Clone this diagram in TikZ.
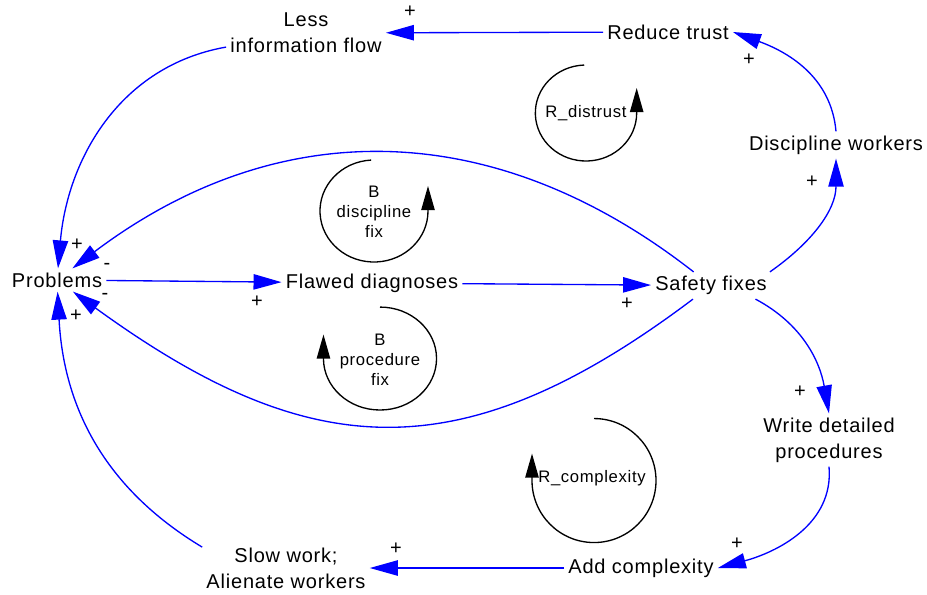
\documentclass[tikz,border=0pt]{standalone}
\usepackage{fontspec}
\setmainfont{Liberation Sans}[LetterSpace=4]
\usetikzlibrary{arrows.meta}
\definecolor{linkblue}{RGB}{0,0,255}

\begin{document}
\begin{tikzpicture}[%
  x=0.75pt, y=0.75pt,
  var/.style={inner sep=3pt, align=center, font=\fontsize{15}{19.5}\selectfont},
  looplabel/.style={inner sep=0pt, align=center, font=\fontsize{12.5}{15}\selectfont},
  sign/.style={inner sep=0pt, font=\fontsize{15}{17}\selectfont},
  causal/.style={draw=linkblue, line width=1pt, -{Triangle[length=21pt,width=11.5pt]}},
  loopline/.style={draw=black, line width=1pt, -{Triangle[length=18pt,width=10pt]}}]
  \useasboundingbox (0,0) rectangle (927,-594);

  % variables
  \node[var] (pr) at (57,-280) {Problems};
  \node[var] (fd) at (372,-283) {Flawed diagnoses};
  \node[var] (sf) at (711,-285.5) {Safety fixes};
  \node[var] (li) at (306,-33) {Less\\information flow};
  \node[var] (rt) at (668,-32) {Reduce trust};
  \node[var] (dw) at (836,-145) {Discipline workers};
  \node[var] (wd) at (829,-440) {Write detailed\\procedures};
  \node[var] (ac) at (641,-568) {Add complexity};
  \node[var] (sw) at (286,-568) {Slow work;\\Alienate workers};

  % links
  \draw[causal] (pr) -- (fd);
  \draw[causal] (fd) -- (sf);
  \draw[causal] (sf) to[out=142, in=37, looseness=1.05] (pr);
  \draw[causal] (sf) to[out=217, in=324, looseness=1.2] (pr);
  \draw[causal] (li) to[out=190, in=85] (pr);
  \draw[causal] (sw.166) to[out=149, in=-87] (pr);
  \draw[causal] (rt) -- (li);
  \draw[causal] (dw.north) to[out=95, in=-20] (rt.east);
  \draw[causal] (sf.13) to[out=35, in=-90] (dw.south);
  \draw[causal] (sf.-17) to[out=-28, in=100] (wd.north);
  \draw[causal] (wd.south) to[out=-85, in=15] (ac.east);
  \draw[causal] (ac) -- (sw);

  % polarities
  \node[sign] (s1) at (410,-12) {+};
  \node[sign] (s2) at (749,-60) {+};
  \node[sign] (s3) at (812,-182) {+};
  \node[sign] (s4) at (77,-245) {+};
  \node[sign] (s5) at (107,-266) {-};
  \node[sign] (s6) at (105,-296) {-};
  \node[sign] (s7) at (76,-316) {+};
  \node[sign] (s8) at (257,-302) {+};
  \node[sign] (s9) at (627,-304) {+};
  \node[sign] (s10) at (800,-392) {+};
  \node[sign] (s11) at (737,-544) {+};
  \node[sign] (s12) at (396,-549) {+};

  % loops
  \node[looplabel] (rd) at (586,-113) {R\_distrust};
  \node[looplabel] (bd) at (374,-212) {B\\discipline\\fix};
  \node[looplabel] (bp) at (380,-360) {B\\procedure\\fix};
  \node[looplabel] (rc) at (592,-478) {R\_complexity};
  \draw[loopline] (rd.center) ++(92:38pt and 36pt)
    arc[start angle=92, end angle=360, x radius=38pt, y radius=36pt] -- ++(0,25);
  \draw[loopline] ([yshift=0.75pt]bd.center) ++(93:40.5pt and 38.25pt)
    arc[start angle=93, end angle=360, x radius=40.5pt, y radius=38.25pt] -- ++(0,25);
  \draw[loopline] ([yshift=1.1pt]bp.center) ++(90:42.4pt and 38.6pt)
    arc[start angle=90, end angle=-180, x radius=42.4pt, y radius=38.6pt] -- ++(0,24);
  \draw[loopline] ([xshift=1.5pt,yshift=-1.9pt]rc.center) ++(90:46.5pt)
    arc[start angle=90, end angle=-180, radius=46.5pt] -- ++(0,27);
\end{tikzpicture}
\end{document}
